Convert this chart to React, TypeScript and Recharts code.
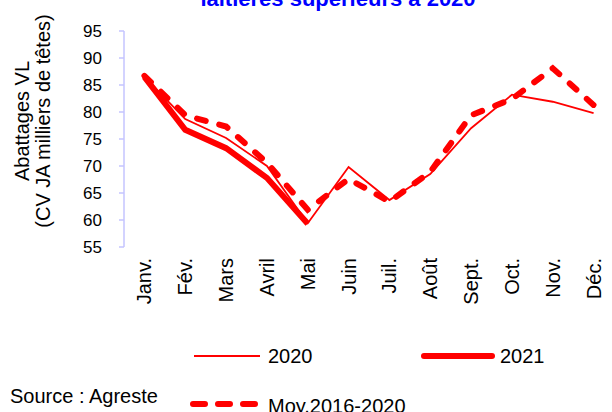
import React from "react";
import { LineChart, Line, XAxis, YAxis } from "recharts";

const months = ["Janv.", "Fév.", "Mars", "Avril", "Mai", "Juin", "Juil.", "Août", "Sept.", "Oct.", "Nov.", "Déc."];
const y2020 = [86.5, 78.7, 75.2, 70.0, 59.4, 69.8, 63.7, 68.5, 77.0, 83.2, 81.9, 79.8];
const y2021 = [86.5, 76.7, 73.3, 67.8, 59.3, null, null, null, null, null, null, null];
const moy = [86.7, 79.4, 77.3, 70.6, 61.9, 67.6, 63.4, 68.9, 79.4, 82.4, 88.1, 81.3];
const yTicks = [55, 60, 65, 70, 75, 80, 85, 90, 95];
const boundaryTicks = months.map((_, i) => i).concat(months.length);

const data = months.map((m, i) => ({ m, a: y2020[i], b: y2021[i], c: moy[i] }));

const FONT = "'Liberation Sans', Arial, sans-serif";
const RED = "#ff0000";
const AXIS = "#c4c4ff";
const W = 612;
const H = 412;

function MonthTick({ x, y, payload }: any) {
  return (
    <text
      x={x}
      y={y}
      transform={`rotate(-90 ${x} ${y})`}
      textAnchor="end"
      dominantBaseline="central"
      fontFamily={FONT}
      fontSize={20}
      fill="#000"
    >
      {payload.value}
    </text>
  );
}

function YTitle() {
  const lines = ["Abattages VL", "(CV JA milliers de têtes)"];
  const xs = [22, 43];
  return (
    <g>
      {lines.map((t, i) => (
        <text
          key={t}
          x={xs[i]}
          y={121}
          transform={`rotate(-90 ${xs[i]} 121)`}
          textAnchor="middle"
          dominantBaseline="central"
          fontFamily={FONT}
          fontSize={20}
          fill="#000"
        >
          {t}
        </text>
      ))}
    </g>
  );
}

function Sample({ w, width, dash }: { w: number; width: number; dash?: string }) {
  return (
    <svg width={w + 8} height={12} style={{ display: "block" }}>
      <line x1={4} y1={6} x2={w + 4} y2={6} stroke={RED} strokeWidth={width} strokeDasharray={dash} strokeLinecap={dash || width > 3 ? "round" : "butt"} />
    </svg>
  );
}

const textStyle: React.CSSProperties = { position: "absolute", fontFamily: FONT, fontSize: 20, color: "#000", whiteSpace: "nowrap", lineHeight: "20px" };

export default function App() {
  return (
    <div style={{ position: "absolute", left: 0, top: 0, width: W, height: H, overflow: "hidden", background: "#fff" }}>
      <div
        style={{
          ...textStyle,
          left: 338,
          top: -12,
          transform: "translateX(-50%)",
          fontWeight: "bold",
          fontSize: 22,
          lineHeight: "22px",
          color: "#0000ff",
        }}
      >
        laitières supérieurs à 2020
      </div>
      <LineChart width={W} height={H} data={data} margin={{ top: 31, right: -2, left: 0, bottom: 65 }}>
        <XAxis
          xAxisId="grid"
          type="number"
          domain={[0, months.length]}
          ticks={boundaryTicks}
          tick={false}
          height={0}
          stroke={AXIS}
          strokeWidth={1.5}
          tickSize={5}
        />
        <XAxis
          xAxisId="cat"
          dataKey="m"
          scale="band"
          axisLine={false}
          tickLine={false}
          tickSize={0}
          tickMargin={11}
          height={100}
          interval={0}
          tick={<MonthTick />}
        />
        <YAxis
          domain={[55, 95]}
          ticks={yTicks}
          width={124}
          stroke={AXIS}
          strokeWidth={1.5}
          tickSize={5}
          tickMargin={17}
          tick={{ fill: "#000", fontSize: 17, fontFamily: FONT }}
          label={{ content: <YTitle /> }}
        />
        <Line xAxisId="cat" type="linear" dataKey="a" stroke={RED} strokeWidth={1.8} dot={false} isAnimationActive={false} />
        <Line xAxisId="cat" type="linear" dataKey="b" stroke={RED} strokeWidth={6} dot={false} isAnimationActive={false} />
        <Line
          xAxisId="cat"
          type="linear"
          dataKey="c"
          stroke={RED}
          strokeWidth={6}
          strokeDasharray="9 14"
          strokeLinecap="round"
          dot={false}
          isAnimationActive={false}
        />
      </LineChart>
      <div style={{ position: "absolute", left: 190, top: 350 }}>
        <Sample w={66} width={2} />
      </div>
      <div style={{ ...textStyle, left: 268, top: 346 }}>2020</div>
      <div style={{ position: "absolute", left: 420, top: 350 }}>
        <Sample w={68} width={6} />
      </div>
      <div style={{ ...textStyle, left: 500, top: 346 }}>2021</div>
      <div style={{ ...textStyle, left: 10, top: 386 }}>Source : Agreste</div>
      <div style={{ position: "absolute", left: 189, top: 398 }}>
        <Sample w={62} width={6} dash="12 13" />
      </div>
      <div style={{ ...textStyle, left: 268, top: 396 }}>Moy.2016-2020</div>
    </div>
  );
}
